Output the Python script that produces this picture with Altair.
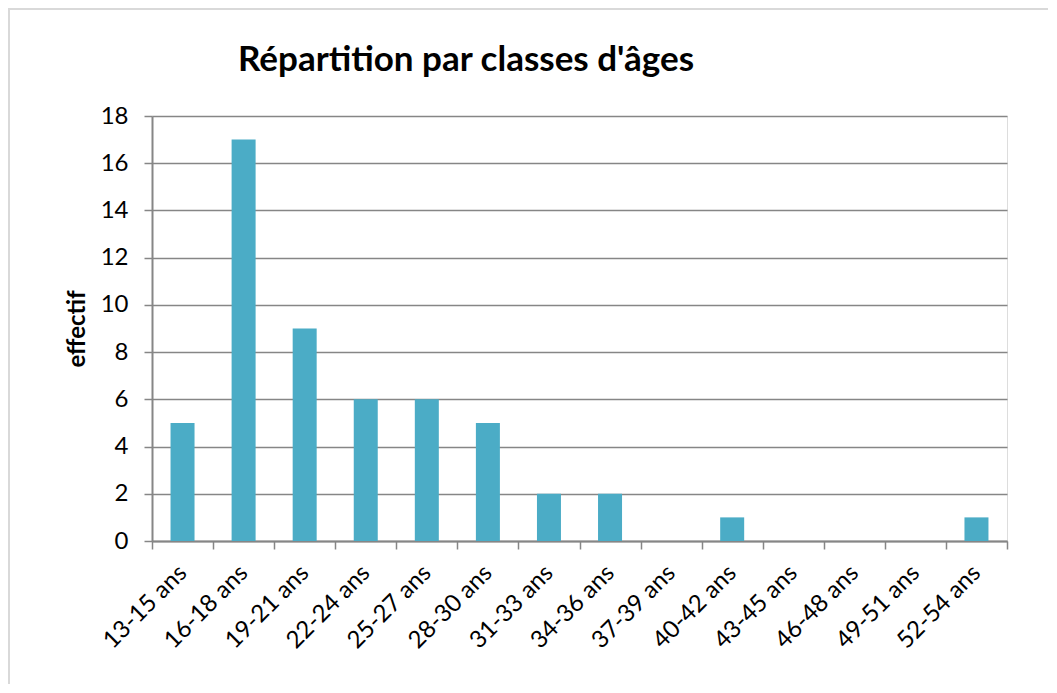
import json
import altair as alt
import pandas as pd

categories = ["13-15 ans", "16-18 ans", "19-21 ans", "22-24 ans", "25-27 ans",
              "28-30 ans", "31-33 ans", "34-36 ans", "37-39 ans", "40-42 ans",
              "43-45 ans", "46-48 ans", "49-51 ans", "52-54 ans"]
counts = [5, 17, 9, 6, 6, 5, 2, 2, 0, 1, 0, 0, 0, 1]
y_ticks = [0, 2, 4, 6, 8, 10, 12, 14, 16, 18]

n = len(categories)
df = pd.DataFrame({
    "classe": categories,
    "effectif": counts,
    "pos": [i + 0.5 for i in range(n)],
})

tick_values = [i / 2 for i in range(2 * n + 1)]
label_expr = ("datum.value % 1 === 0 ? '' : "
              + json.dumps(categories) + "[floor(datum.value)]")

GRAY = "#868686"
FONT = "Lato"

x_axis = alt.Axis(
    values=tick_values, labelExpr=label_expr, labelAngle=-45,
    labelAlign="right", labelBaseline="middle", labelOverlap=False,
    labelPadding=20, tickSize=8, tickWidth=1.5,
    tickOpacity={"condition": {"test": "datum.value % 1 === 0", "value": 1}, "value": 0},
    grid=False, title=None, domainColor=GRAY, domainWidth=2, tickColor=GRAY,
    labelFont=FONT, labelFontSize=24, labelColor="black",
)
y_axis = alt.Axis(
    values=y_ticks, grid=True, gridColor=GRAY, gridWidth=1.5,
    tickSize=8, tickWidth=1.5, tickColor=GRAY, domainColor=GRAY, domainWidth=2,
    labelFont=FONT, labelFontSize=24, labelColor="black", labelPadding=16,
    title="effectif", titleFont=FONT, titleFontSize=24, titleFontWeight="bold",
    titleColor="black", titlePadding=11,
)

bars = alt.Chart(df).mark_bar(size=24, color="#4BACC6").encode(
    x=alt.X("pos:Q", scale=alt.Scale(domain=[0, n], nice=False, zero=False, padding=0),
            axis=x_axis),
    y=alt.Y("effectif:Q", scale=alt.Scale(domain=[0, 18], nice=False), axis=y_axis),
)

border = alt.Chart(pd.DataFrame({"a": [0]})).mark_rect(
    fill="transparent", stroke="#d9d9d9", strokeWidth=2
).encode(
    x=alt.value(-143), x2=alt.value(1300), y=alt.value(-107), y2=alt.value(1000)
)

chart = alt.layer(border, bars).properties(
    width=855, height=425,
    autosize="none",
    padding={"left": 144, "top": 108, "right": 41, "bottom": 143},
    title=alt.TitleParams(
        "Répartition par classes d'âges", anchor="start", frame="group",
        dx=86, offset=-98, baseline="alphabetic", fontSize=35, font=FONT,
        fontWeight="bold", color="black",
    ),
).configure_view(stroke=None).configure(background="white")

chart.save("out.html", embed_options={"renderer": "svg", "actions": False})
